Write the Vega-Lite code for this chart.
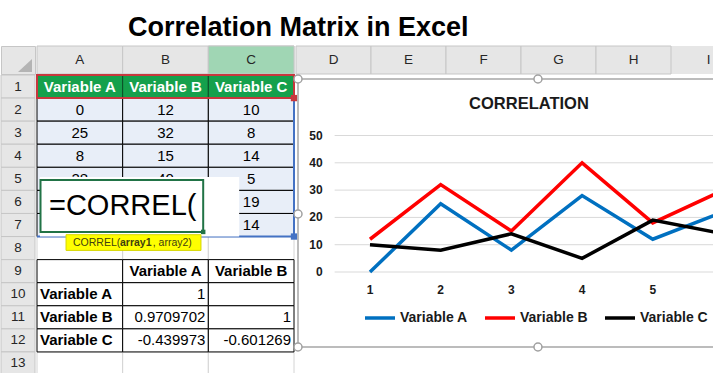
{
  "$schema": "https://vega.github.io/schema/vega-lite/v6.json",
  "padding": {"left": 0, "right": 0, "top": 13, "bottom": 0},
  "background": "white",
  "spacing": -5.5,
  "resolve": {"scale": {"color": "independent"}, "legend": {"color": "independent"}},
  "config": {
    "font": "Liberation Sans",
    "view": {"stroke": null},
    "concat": {"spacing": 0},
    "title": {"font": "Liberation Sans"},
    "axis": {"labelFont": "Liberation Sans"},
    "legend": {"labelFont": "Liberation Sans"},
    "text": {"font": "Liberation Sans"}
  },
  "title": {"text": "Correlation Matrix in Excel", "fontSize": 27, "fontWeight": "bold", "color": "#000000", "anchor": "middle", "dx": -61, "dy": 8, "offset": 12},
  "datasets": {
    "colsABC": [{"col": "A"}, {"col": "B"}, {"col": "C"}],
    "colsDI": [{"col": "D"}, {"col": "E"}, {"col": "F"}, {"col": "G"}, {"col": "H"}, {"col": "I"}],
    "rows": [{"row": 1}, {"row": 2}, {"row": 3}, {"row": 4}, {"row": 5}, {"row": 6}, {"row": 7}, {"row": 8}, {"row": 9}, {"row": 10}, {"row": 11}, {"row": 12}, {"row": 13}],
    "cells": [
      {"col": "A", "row": 8, "text": "", "kind": "blank"},
      {"col": "B", "row": 8, "text": "", "kind": "blank"},
      {"col": "C", "row": 8, "text": "", "kind": "blank"},
      {"col": "A", "row": 13, "text": "", "kind": "blank"},
      {"col": "B", "row": 13, "text": "", "kind": "blank"},
      {"col": "C", "row": 13, "text": "", "kind": "blank"},
      {"col": "A", "row": 1, "text": "Variable A", "kind": "head"},
      {"col": "B", "row": 1, "text": "Variable B", "kind": "head"},
      {"col": "C", "row": 1, "text": "Variable C", "kind": "head"},
      {"col": "A", "row": 2, "text": "0", "kind": "data"},
      {"col": "B", "row": 2, "text": "12", "kind": "data"},
      {"col": "C", "row": 2, "text": "10", "kind": "data"},
      {"col": "A", "row": 3, "text": "25", "kind": "data"},
      {"col": "B", "row": 3, "text": "32", "kind": "data"},
      {"col": "C", "row": 3, "text": "8", "kind": "data"},
      {"col": "A", "row": 4, "text": "8", "kind": "data"},
      {"col": "B", "row": 4, "text": "15", "kind": "data"},
      {"col": "C", "row": 4, "text": "14", "kind": "data"},
      {"col": "A", "row": 5, "text": "28", "kind": "data"},
      {"col": "B", "row": 5, "text": "40", "kind": "data"},
      {"col": "C", "row": 5, "text": "5", "kind": "data"},
      {"col": "A", "row": 6, "text": "12", "kind": "data"},
      {"col": "B", "row": 6, "text": "18", "kind": "data"},
      {"col": "C", "row": 6, "text": "19", "kind": "data"},
      {"col": "A", "row": 7, "text": "22", "kind": "data"},
      {"col": "B", "row": 7, "text": "30", "kind": "data"},
      {"col": "C", "row": 7, "text": "14", "kind": "data"},
      {"col": "A", "row": 9, "text": "", "kind": "tlabel"},
      {"col": "B", "row": 9, "text": "Variable A", "kind": "thead"},
      {"col": "C", "row": 9, "text": "Variable B", "kind": "thead"},
      {"col": "A", "row": 10, "text": "Variable A", "kind": "tlabel"},
      {"col": "B", "row": 10, "text": "1", "kind": "tnum"},
      {"col": "C", "row": 10, "text": "", "kind": "tnum"},
      {"col": "A", "row": 11, "text": "Variable B", "kind": "tlabel"},
      {"col": "B", "row": 11, "text": "0.9709702", "kind": "tnum"},
      {"col": "C", "row": 11, "text": "1", "kind": "tnum"},
      {"col": "A", "row": 12, "text": "Variable C", "kind": "tlabel"},
      {"col": "B", "row": 12, "text": "-0.439973", "kind": "tnum"},
      {"col": "C", "row": 12, "text": "-0.601269", "kind": "tnum"}
    ],
    "series": [
      {"x": 1, "series": "Variable A", "value": 0},
      {"x": 2, "series": "Variable A", "value": 25},
      {"x": 3, "series": "Variable A", "value": 8},
      {"x": 4, "series": "Variable A", "value": 28},
      {"x": 5, "series": "Variable A", "value": 12},
      {"x": 6, "series": "Variable A", "value": 22},
      {"x": 1, "series": "Variable B", "value": 12},
      {"x": 2, "series": "Variable B", "value": 32},
      {"x": 3, "series": "Variable B", "value": 15},
      {"x": 4, "series": "Variable B", "value": 40},
      {"x": 5, "series": "Variable B", "value": 18},
      {"x": 6, "series": "Variable B", "value": 30},
      {"x": 1, "series": "Variable C", "value": 10},
      {"x": 2, "series": "Variable C", "value": 8},
      {"x": 3, "series": "Variable C", "value": 14},
      {"x": 4, "series": "Variable C", "value": 5},
      {"x": 5, "series": "Variable C", "value": 19},
      {"x": 6, "series": "Variable C", "value": 14}
    ],
    "ticks": [{"v": 0}, {"v": 10}, {"v": 20}, {"v": 30}, {"v": 40}, {"v": 50}]
  },
  "vconcat": [
    {
      "spacing": 0,
      "hconcat": [
        {
          "width": 34, "height": 28,
          "view": {"fill": "#e6e6e6", "stroke": "#c6c6c6"},
          "data": {"values": [{}]},
          "mark": {"type": "point", "shape": "M1,-0.07L1,0.86L0,0.86Z", "filled": true, "color": "#b4b4b4", "size": 784, "opacity": 1},
          "encoding": {}
        },
        {
          "width": 257, "height": 28,
          "data": {"name": "colsABC"},
          "encoding": {
            "x": {"field": "col", "type": "nominal", "scale": {"domain": ["A", "B", "C"], "paddingInner": 0, "paddingOuter": 0}, "axis": null}
          },
          "layer": [
            {
              "mark": {"type": "rect", "stroke": "#c6c6c6", "strokeWidth": 1, "fill": "#e6e6e6"}
            },
            {
              "transform": [{"filter": "datum.col === 'C'"}],
              "mark": {"type": "rect", "stroke": "#c6c6c6", "strokeWidth": 1, "fill": "#a0d6b4"}
            },
            {
              "mark": {"type": "text", "fontSize": 13.5, "color": "#262626"},
              "encoding": {"text": {"field": "col"}}
            }
          ]
        },
        {
          "width": 422, "height": 28,
          "view": {"fill": "#e6e6e6", "stroke": null},
          "data": {"name": "colsDI"},
          "encoding": {
            "x": {"field": "col", "type": "nominal", "scale": {"domain": ["D", "E", "F", "G", "H", "I"], "range": [0, 450], "paddingInner": 0, "paddingOuter": 0}, "axis": null}
          },
          "layer": [
            {
              "transform": [{"filter": "datum.col !== 'I'"}],
              "mark": {"type": "rect", "stroke": "#c6c6c6", "strokeWidth": 1, "fill": "#e6e6e6"}
            },
            {
              "mark": {"type": "text", "fontSize": 13.5, "color": "#262626"},
              "encoding": {"text": {"field": "col"}}
            }
          ]
        }
      ]
    },
    {
      "spacing": -8.5,
      "resolve": {"scale": {"color": "independent"}, "legend": {"color": "independent"}},
      "hconcat": [
        {
          "spacing": 0,
          "hconcat": [
            {
              "width": 34, "height": 300,
              "data": {"name": "rows"},
              "encoding": {
                "y": {"field": "row", "type": "ordinal", "scale": {"domain": [1, 2, 3, 4, 5, 6, 7, 8, 9, 10, 11, 12, 13], "paddingInner": 0, "paddingOuter": 0}, "axis": null}
              },
              "layer": [
                {
                  "mark": {"type": "rect", "fill": "#e6e6e6", "stroke": "#c6c6c6", "strokeWidth": 1}
                },
                {
                  "mark": {"type": "text", "fontSize": 13.5, "color": "#262626"},
                  "encoding": {"text": {"field": "row"}}
                }
              ]
            },
            {
              "width": 257, "height": 300,
              "resolve": {"scale": {"x": "independent", "y": "independent"}},
              "layer": [
                {
                  "data": {"name": "cells"},
                  "encoding": {
                    "x": {"field": "col", "type": "nominal", "scale": {"domain": ["A", "B", "C"], "paddingInner": 0, "paddingOuter": 0}, "axis": null},
                    "y": {"field": "row", "type": "ordinal", "scale": {"domain": [1, 2, 3, 4, 5, 6, 7, 8, 9, 10, 11, 12, 13], "paddingInner": 0, "paddingOuter": 0}, "axis": null}
                  },
                  "layer": [
                    {
                      "transform": [{"filter": "datum.kind === 'blank'"}],
                      "mark": {"type": "rect", "fill": "#ffffff", "stroke": "#d4d4d4", "strokeWidth": 1}
                    },
                    {
                      "transform": [{"filter": "datum.kind === 'head'"}],
                      "mark": {"type": "rect", "fill": "#15a04c", "stroke": "#0b4d27", "strokeWidth": 1}
                    },
                    {
                      "transform": [{"filter": "datum.kind === 'data'"}],
                      "mark": {"type": "rect", "fill": "#e8eef8", "stroke": "#000000", "strokeWidth": 1}
                    },
                    {
                      "transform": [{"filter": "datum.kind === 'thead' || datum.kind === 'tlabel' || datum.kind === 'tnum'"}],
                      "mark": {"type": "rect", "fill": "#ffffff", "stroke": "#000000", "strokeWidth": 1}
                    },
                    {
                      "transform": [{"filter": "datum.kind === 'head'"}],
                      "mark": {"type": "text", "fontSize": 15, "fontWeight": "bold", "color": "#ffffff"},
                      "encoding": {"text": {"field": "text"}}
                    },
                    {
                      "transform": [{"filter": "datum.kind === 'data'"}],
                      "mark": {"type": "text", "fontSize": 15, "color": "#000000"},
                      "encoding": {"text": {"field": "text"}}
                    },
                    {
                      "transform": [{"filter": "datum.kind === 'thead'"}],
                      "mark": {"type": "text", "fontSize": 15, "fontWeight": "bold", "color": "#000000"},
                      "encoding": {"text": {"field": "text"}}
                    },
                    {
                      "transform": [{"filter": "datum.kind === 'tlabel'"}],
                      "mark": {"type": "text", "fontSize": 15, "fontWeight": "bold", "color": "#000000", "align": "left", "dx": 3},
                      "encoding": {
                        "x": {"field": "col", "type": "nominal", "bandPosition": 0, "axis": null},
                        "text": {"field": "text"}
                      }
                    },
                    {
                      "transform": [{"filter": "datum.kind === 'tnum'"}],
                      "mark": {"type": "text", "fontSize": 15, "color": "#000000", "align": "right", "dx": -3},
                      "encoding": {
                        "x": {"field": "col", "type": "nominal", "bandPosition": 1, "axis": null},
                        "text": {"field": "text"}
                      }
                    }
                  ]
                },
                {
                  "data": {"values": [{}]},
                  "layer": [
                    {
                      "mark": {"type": "rule", "color": "#4472c4", "strokeWidth": 2},
                      "encoding": {
                        "x": {"datum": 3, "type": "quantitative", "scale": {"domain": [0, 3], "nice": false, "zero": false}, "axis": null},
                        "y": {"datum": 1, "type": "quantitative", "scale": {"domain": [13, 0], "nice": false, "zero": false}, "axis": null},
                        "y2": {"datum": 7}
                      }
                    },
                    {
                      "mark": {"type": "rule", "color": "#4472c4", "strokeWidth": 2},
                      "encoding": {
                        "x": {"datum": 0, "type": "quantitative", "axis": null},
                        "x2": {"datum": 3},
                        "y": {"datum": 7, "type": "quantitative", "axis": null}
                      }
                    },
                    {
                      "mark": {"type": "point", "shape": "square", "filled": true, "color": "#4472c4", "size": 40, "opacity": 1},
                      "encoding": {
                        "x": {"datum": 3, "type": "quantitative", "axis": null},
                        "y": {"datum": 7, "type": "quantitative", "axis": null}
                      }
                    },
                    {
                      "mark": {"type": "rect", "fillOpacity": 0, "stroke": "#c8373d", "strokeWidth": 2},
                      "encoding": {
                        "x": {"datum": 0, "type": "quantitative", "axis": null},
                        "x2": {"datum": 3},
                        "y": {"datum": 0, "type": "quantitative", "axis": null},
                        "y2": {"datum": 1}
                      }
                    },
                    {
                      "mark": {"type": "point", "shape": "square", "filled": true, "color": "#c8373d", "size": 40, "opacity": 1},
                      "encoding": {
                        "x": {"datum": 3, "type": "quantitative", "axis": null},
                        "y": {"datum": 1, "type": "quantitative", "axis": null}
                      }
                    },
                    {
                      "mark": {"type": "rect", "fill": "#ffffff"},
                      "encoding": {
                        "x": {"datum": 0.035, "type": "quantitative", "axis": null},
                        "x2": {"datum": 2.36},
                        "y": {"datum": 4.42, "type": "quantitative", "axis": null},
                        "y2": {"datum": 7.0}
                      }
                    },
                    {
                      "mark": {"type": "rect", "fill": "#ffffff", "stroke": "#217346", "strokeWidth": 2},
                      "encoding": {
                        "x": {"datum": 0.041, "type": "quantitative", "axis": null},
                        "x2": {"datum": 1.94},
                        "y": {"datum": 4.55, "type": "quantitative", "axis": null},
                        "y2": {"datum": 6.8}
                      }
                    },
                    {
                      "mark": {"type": "point", "shape": "square", "filled": true, "color": "#217346", "size": 20, "opacity": 1},
                      "encoding": {
                        "x": {"datum": 1.94, "type": "quantitative", "axis": null},
                        "y": {"datum": 6.8, "type": "quantitative", "axis": null}
                      }
                    },
                    {
                      "mark": {"type": "text", "text": "=CORREL(", "fontSize": 29, "color": "#000000", "align": "left", "baseline": "middle"},
                      "encoding": {
                        "x": {"datum": 0.14, "type": "quantitative", "axis": null},
                        "y": {"datum": 5.68, "type": "quantitative", "axis": null}
                      }
                    },
                    {
                      "mark": {"type": "rect", "fill": "#ffff00", "stroke": "#d6d600", "strokeWidth": 1},
                      "encoding": {
                        "x": {"datum": 0.339, "type": "quantitative", "axis": null},
                        "x2": {"datum": 1.914},
                        "y": {"datum": 6.92, "type": "quantitative", "axis": null},
                        "y2": {"datum": 7.6}
                      }
                    },
                    {
                      "mark": {"type": "text", "text": "CORREL(", "fontSize": 10.5, "color": "#404010", "align": "left", "baseline": "middle"},
                      "encoding": {
                        "x": {"datum": 0.42, "type": "quantitative", "axis": null},
                        "y": {"datum": 7.26, "type": "quantitative", "axis": null}
                      }
                    },
                    {
                      "mark": {"type": "text", "text": "array1", "fontSize": 10.5, "fontWeight": "bold", "color": "#404010", "align": "left", "baseline": "middle"},
                      "encoding": {
                        "x": {"datum": 0.969, "type": "quantitative", "axis": null},
                        "y": {"datum": 7.26, "type": "quantitative", "axis": null}
                      }
                    },
                    {
                      "mark": {"type": "text", "text": ", array2)", "fontSize": 10.5, "color": "#404010", "align": "left", "baseline": "middle"},
                      "encoding": {
                        "x": {"datum": 1.351, "type": "quantitative", "axis": null},
                        "y": {"datum": 7.26, "type": "quantitative", "axis": null}
                      }
                    }
                  ]
                }
              ]
            }
          ]
        },
        {
          "spacing": -9.5,
          "vconcat": [
            {
              "width": 416, "height": 4,
              "data": {"values": []},
              "mark": "rule",
              "encoding": {}
            },
            {
              "width": 416, "height": 268,
              "view": {"stroke": "#a6a6a6", "strokeWidth": 1.5},
              "layer": [
                {
                  "data": {"name": "ticks"},
                  "mark": {"type": "rule", "color": "#d9d9d9", "strokeWidth": 1, "clip": true},
                  "encoding": {
                    "y": {"field": "v", "type": "quantitative", "scale": {"domain": [-27.47, 70.7], "nice": false, "zero": false}, "axis": null},
                    "x": {"datum": 0.5, "type": "quantitative", "scale": {"domain": [-0.0184, 5.866], "nice": false, "zero": false}, "axis": null},
                    "x2": {"datum": 6.5}
                  }
                },
                {
                  "data": {"name": "ticks"},
                  "mark": {"type": "text", "fontSize": 12, "fontWeight": "bold", "color": "#1a1a1a", "align": "right", "baseline": "middle", "dx": -12},
                  "encoding": {
                    "y": {"field": "v", "type": "quantitative", "axis": null},
                    "x": {"datum": 0.5, "type": "quantitative", "axis": null},
                    "text": {"field": "v"}
                  }
                },
                {
                  "data": {"name": "series"},
                  "transform": [{"filter": "datum.series === 'Variable A' && datum.x <= 5"}],
                  "mark": {"type": "text", "fontSize": 12, "fontWeight": "bold", "color": "#1a1a1a", "align": "center", "baseline": "middle", "dy": 18},
                  "encoding": {
                    "x": {"field": "x", "type": "quantitative", "axis": null},
                    "y": {"datum": 0, "type": "quantitative", "axis": null},
                    "text": {"field": "x"}
                  }
                },
                {
                  "data": {"values": [{}]},
                  "mark": {"type": "text", "text": "CORRELATION", "fontSize": 16.5, "fontWeight": "bold", "color": "#1a1a1a", "align": "center", "baseline": "middle"},
                  "encoding": {
                    "x": {"datum": 3.249, "type": "quantitative", "axis": null},
                    "y": {"datum": 61.6, "type": "quantitative", "axis": null}
                  }
                },
                {
                  "data": {"name": "series"},
                  "mark": {"type": "line", "strokeWidth": 3.5, "clip": true},
                  "encoding": {
                    "x": {"field": "x", "type": "quantitative", "axis": null},
                    "y": {"field": "value", "type": "quantitative", "axis": null},
                    "color": {"field": "series", "type": "nominal", "scale": {"domain": ["Variable A", "Variable B", "Variable C"], "range": ["#0070c0", "#ff0000", "#000000"]}, "legend": {"orient": "none", "legendX": 65, "legendY": 226, "direction": "horizontal", "title": null, "symbolType": "stroke", "symbolSize": 900, "symbolStrokeWidth": 3.5, "labelFontSize": 14, "labelFontWeight": "bold", "labelColor": "#1a1a1a", "labelOffset": 3, "columnPadding": 10}}
                  }
                },
                {
                  "data": {"values": [{}]},
                  "mark": {"type": "point", "filled": true, "fill": "#ffffff", "stroke": "#a0a0a0", "strokeWidth": 1.5, "size": 64, "opacity": 1},
                  "encoding": {
                    "x": {"datum": -0.0184, "type": "quantitative", "axis": null},
                    "y": {"datum": 70.7, "type": "quantitative", "axis": null}
                  }
                },
                {
                  "data": {"values": [{}]},
                  "mark": {"type": "point", "filled": true, "fill": "#ffffff", "stroke": "#a0a0a0", "strokeWidth": 1.5, "size": 64, "opacity": 1},
                  "encoding": {
                    "x": {"datum": 3.376, "type": "quantitative", "axis": null},
                    "y": {"datum": 70.7, "type": "quantitative", "axis": null}
                  }
                },
                {
                  "data": {"values": [{}]},
                  "mark": {"type": "point", "filled": true, "fill": "#ffffff", "stroke": "#a0a0a0", "strokeWidth": 1.5, "size": 64, "opacity": 1},
                  "encoding": {
                    "x": {"datum": -0.0184, "type": "quantitative", "axis": null},
                    "y": {"datum": 21.25, "type": "quantitative", "axis": null}
                  }
                },
                {
                  "data": {"values": [{}]},
                  "mark": {"type": "point", "filled": true, "fill": "#ffffff", "stroke": "#a0a0a0", "strokeWidth": 1.5, "size": 64, "opacity": 1},
                  "encoding": {
                    "x": {"datum": -0.0184, "type": "quantitative", "axis": null},
                    "y": {"datum": -27.47, "type": "quantitative", "axis": null}
                  }
                },
                {
                  "data": {"values": [{}]},
                  "mark": {"type": "point", "filled": true, "fill": "#ffffff", "stroke": "#a0a0a0", "strokeWidth": 1.5, "size": 64, "opacity": 1},
                  "encoding": {
                    "x": {"datum": 3.376, "type": "quantitative", "axis": null},
                    "y": {"datum": -27.47, "type": "quantitative", "axis": null}
                  }
                }
              ]
            }
          ]
        }
      ]
    }
  ]
}
